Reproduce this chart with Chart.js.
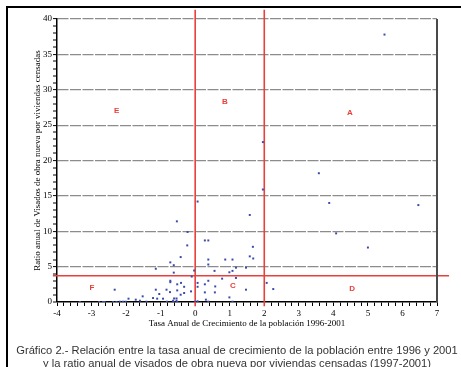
<!DOCTYPE html>
<html>
<head>
<meta charset="utf-8">
<script src="https://cdn.jsdelivr.net/npm/chart.js@4"></script>
<style>
  html, body { margin: 0; padding: 0; background: #fff; overflow: hidden; }
  #frame { position: absolute; left: 6px; top: 6px; width: 600px; height: 420px;
           border-top: 2px solid #000; border-left: 2px solid #000; }
  #wrap { position: absolute; left: 0; top: 0; width: 461px; height: 367px; }
  #rightEdge { position: absolute; left: 436px; top: 19px; width: 2px; height: 283px;
               background: #4a4a4a; }
  .caption { position: absolute; left: -63px; width: 600px; text-align: center;
             white-space: nowrap; font-family: "Liberation Sans", sans-serif;
             font-size: 11.2px; color: #333; }
</style>
</head>
<body>
<div id="frame"></div>
<div id="wrap"><canvas id="chart" width="461" height="367"></canvas></div>
<div id="rightEdge"></div>
<div class="caption" style="top:344px">Gráfico 2.- Relación entre la tasa anual de crecimiento de la población entre 1996 y 2001</div>
<div class="caption" style="top:357px">y la ratio anual de visados de obra nueva por viviendas censadas (1997-2001)</div>
<script>
// provinces: population growth rate (x) vs new-build permit ratio (y)
var growthRate = [5.48, 1.96, 3.58, 1.96, 0.07, 3.88, 6.46, 1.58, -0.53, -0.22,
  4.08, 0.28, 0.38, -0.23, 1.67, 5.0, -0.42, 1.58, 1.68, -0.72,
  0.38, 0.87, 1.08, -0.62, 0.38, 1.18, 1.47, -1.14, -0.03, 0.56,
  0.99, 1.08, -0.62, -0.10, 0.78, 1.18, -0.72, -0.72, -0.41, -0.52,
  0.07, 0.38, -0.32, 0.07, 0.28, 0.58, 2.07, 2.26, 1.47, -2.33,
  -1.14, -0.83, -0.52, -0.12, 0.28, 0.57, -0.32, -0.73, -1.04, -1.52,
  -0.42, -1.22, -1.10, -0.93, -0.61, -0.54, -1.93, -1.72, -1.60, -1.41,
  -0.64, -0.54, -0.82, -0.62, -0.52, -2.18, -2.09, -2.01, -2.38, -2.28,
  -2.67, -2.62, -2.78, -3.34, 0.07, 0.0, 0.31, 0.99, 1.08, 0.38];
var permitRatio = [37.8, 22.6, 18.2, 15.9, 14.2, 14.0, 13.7, 12.3, 11.4, 9.9,
  9.7, 8.7, 8.7, 8.0, 7.8, 7.7, 6.35, 6.45, 6.15, 5.6,
  6.0, 6.0, 6.0, 5.2, 5.3, 4.85, 4.85, 4.7, 4.45, 4.4,
  4.2, 4.4, 4.15, 3.6, 3.3, 3.4, 3.0, 2.8, 2.7, 2.5,
  2.7, 3.0, 2.15, 2.15, 2.5, 2.2, 2.7, 1.83, 1.74, 1.74,
  1.74, 1.74, 1.64, 1.5, 1.36, 1.36, 1.27, 1.4, 1.13, 0.8,
  1.03, 0.56, 0.47, 0.47, 0.5, 0.5, 0.47, 0.33, 0.18, 0.04,
  0.18, 0.18, 0.04, 0.0, 0.0, 0.04, 0.04, 0.04, 0.0, 0.0,
  0.0, 0.0, 0.0, 0.0, 0.1, 0.04, 0.33, 0.65, 0.04, 0.05];

// reference lines (data units)
var meanRatio = 3.7;
var growthCuts = [0, 2];
var hLineX = [-4.12, 7.35];
var vLineY = [41.3, -0.6];

// quadrant letters
var zoneNames = ['E', 'B', 'A', 'F', 'C', 'D'];
var zoneX = [-2.27, 0.86, 4.48, -2.99, 1.09, 4.54];
var zoneY = [27.0, 28.3, 26.7, 2.0, 2.3, 1.9];

var RED = '#e8403a';

var points = growthRate.map(function(x, i) { return { x: x, y: permitRatio[i] }; });

var datasets = [{
  type: 'scatter',
  data: points,
  pointStyle: 'rect',
  pointRadius: 1.4,
  pointBorderWidth: 0,
  backgroundColor: '#3a4aa8',
  borderColor: '#3a4aa8'
}, {
  type: 'line',
  data: [{ x: hLineX[0], y: meanRatio }, { x: hLineX[1], y: meanRatio }],
  borderColor: RED, borderWidth: 1.6, pointRadius: 0, clip: false
}];
growthCuts.forEach(function(g) {
  datasets.push({
    type: 'line',
    data: [{ x: g, y: vLineY[0] }, { x: g, y: vLineY[1] }],
    borderColor: RED, borderWidth: 1.6, pointRadius: 0, clip: false
  });
});

var isWhole = function(v, step) {
  var r = Math.round(v / step) * step;
  return Math.abs(v - r) < 1e-6;
};

// red quadrant letters
var zoneLetters = {
  id: 'zoneLetters',
  afterDatasetsDraw: function(chart) {
    var ctx = chart.ctx, xs = chart.scales.x, ys = chart.scales.y;
    ctx.save();
    ctx.fillStyle = RED;
    ctx.font = 'bold 8px "Liberation Sans", sans-serif';
    ctx.textAlign = 'center';
    ctx.textBaseline = 'middle';
    zoneNames.forEach(function(n, i) {
      ctx.fillText(n, xs.getPixelForValue(zoneX[i]), ys.getPixelForValue(zoneY[i]));
    });
    ctx.restore();
  }
};

var serif = '"Liberation Serif", serif';

new Chart(document.getElementById('chart'), {
  data: { datasets: datasets },
  plugins: [zoneLetters],
  options: {
    responsive: false,
    animation: false,
    layout: { padding: { left: 30, right: 24, top: 19, bottom: 37 } },
    plugins: { legend: { display: false }, tooltip: { enabled: false } },
    scales: {
      x: {
        type: 'linear', min: -4, max: 7,
        afterFit: function(s) { s.height = 28; s.paddingLeft = 0; s.paddingRight = 0; },
        border: { display: true, color: '#000', width: 1.5 },
        grid: {
          drawOnChartArea: false,
          tickWidth: 1, tickColor: '#000', tickLength: 4
        },
        ticks: {
          stepSize: 0.2, maxTicksLimit: 200, autoSkip: false, maxRotation: 0,
          padding: 2, color: '#000',
          font: { family: serif, size: 9 },
          callback: function(v) { return isWhole(v, 1) ? String(Math.round(v)) : ''; }
        },
        title: {
          display: true, text: 'Tasa Anual de Crecimiento de la población 1996-2001',
          color: '#000', padding: { top: 0, bottom: 1 },
          font: { family: serif, size: 9 }
        }
      },
      y: {
        type: 'linear', min: 0, max: 40,
        afterFit: function(s) { s.width = 27; s.paddingTop = 0; s.paddingBottom = 0; },
        border: { display: true, color: '#000', width: 1.5, dash: [11, 1.5] },
        grid: {
          lineWidth: function(c) {
            var v = c.tick ? c.tick.value : 0;
            return v > 0 && isWhole(v, 5) ? 1.2 : 0;
          },
          color: '#8c8c8c',
          tickWidth: 1, tickColor: '#000', tickLength: 4
        },
        ticks: {
          stepSize: 1, maxTicksLimit: 200, autoSkip: false, padding: 1, color: '#000',
          font: { family: serif, size: 9 },
          callback: function(v) { return isWhole(v, 5) ? String(v) : ''; }
        },
        title: {
          display: true, text: 'Ratio anual de Visados de obra nueva por viviendas censadas',
          color: '#000', padding: { top: 2, bottom: 0 },
          font: { family: serif, size: 9 }
        }
      }
    }
  }
});
</script>
</body>
</html>
